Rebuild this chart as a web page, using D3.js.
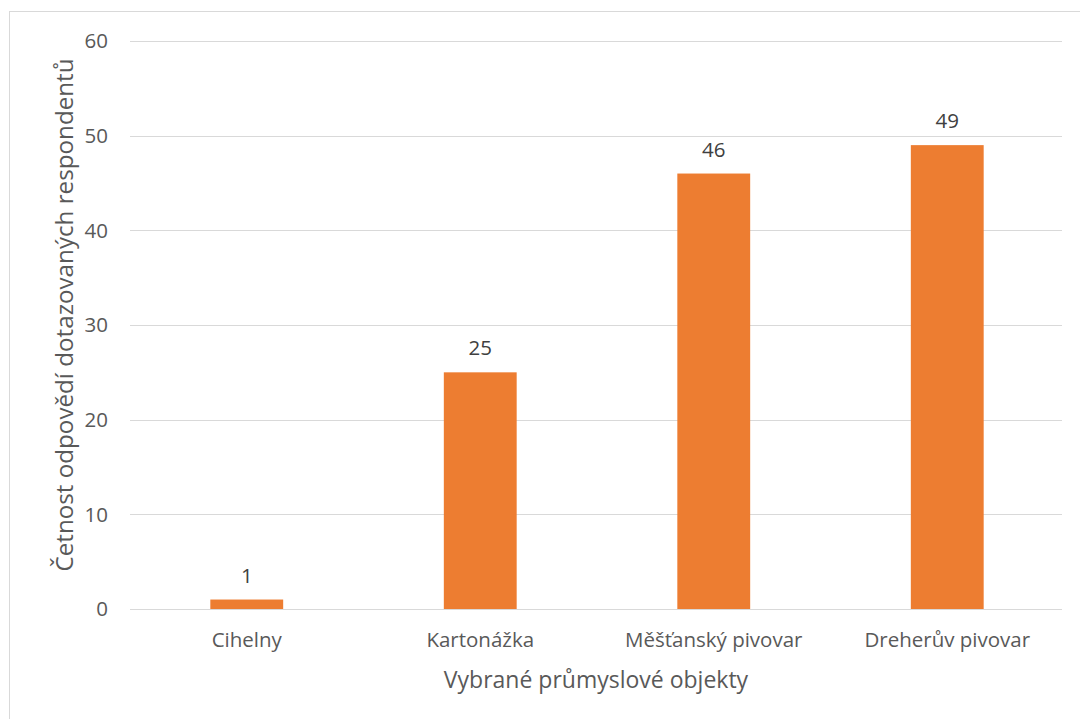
<!DOCTYPE html>
<html><head><meta charset="utf-8">
<script src="https://cdn.jsdelivr.net/npm/d3@7"></script>
<style>body{margin:0;background:#fff}svg{display:block}</style>
</head><body><svg id="c" width="1080" height="719"></svg>
<script>
const categories = ["Cihelny","Kartonážka","Měšťanský pivovar","Dreherův pivovar"];
const values = [1,25,46,49];
const yTicks = [0,10,20,30,40,50,60];
const xTitle = "Vybrané průmyslové objekty";
const yTitle = "Četnost odpovědí dotazovaných respondentů";

const svg = d3.select("#c");
const font = "'Open Sans', sans-serif";
const txt = "#595959";
svg.append("rect").attr("x",9.5).attr("y",11.5).attr("width",1090).attr("height",720)
  .attr("fill","#fff").attr("stroke","#d9d9d9");

const L=130, R=1064, T=41, B=609;
const x = d3.scaleBand().domain(categories).range([L,R]).paddingInner(0.688).paddingOuter(0.344);
const y = d3.scaleLinear().domain([0,60]).range([B,T]);

const g = svg.append("g");
g.selectAll("line.grid").data(yTicks).join("line")
  .attr("x1",L).attr("x2",R-2).attr("y1",d=>Math.round(y(d))+0.5).attr("y2",d=>Math.round(y(d))+0.5)
  .attr("stroke","#d9d9d9").attr("stroke-width",1);

g.selectAll("text.yt").data(yTicks).join("text")
  .attr("x",108).attr("y",d=>y(d)).attr("dy","0.36em").attr("text-anchor","end")
  .attr("font-family",font).attr("font-size",20.5).attr("fill",txt).text(d=>d);

g.selectAll("rect.bar").data(values).join("rect")
  .attr("x",(d,i)=>x(categories[i])).attr("width",x.bandwidth())
  .attr("y",d=>y(d)).attr("height",d=>y(0)-y(d)).attr("fill","#ed7d31");

g.selectAll("text.lab").data(values).join("text")
  .attr("x",(d,i)=>x(categories[i])+x.bandwidth()/2).attr("y",d=>y(d)-17)
  .attr("text-anchor","middle").attr("font-family",font).attr("font-size",20.5).attr("fill","#404040").text(d=>d);

g.selectAll("text.xt").data(categories).join("text")
  .attr("x",d=>x(d)+x.bandwidth()/2).attr("y",647)
  .attr("text-anchor","middle").attr("font-family",font).attr("font-size",20.5).attr("fill",txt).text(d=>d);

svg.append("text").attr("x",596).attr("y",688).attr("text-anchor","middle")
  .attr("font-family",font).attr("font-size",23).attr("fill",txt).text(xTitle);
svg.append("text").attr("transform","translate(73,315) rotate(-90)").attr("text-anchor","middle")
  .attr("font-family",font).attr("font-size",24.2).attr("fill",txt).text(yTitle);
</script></body></html>
